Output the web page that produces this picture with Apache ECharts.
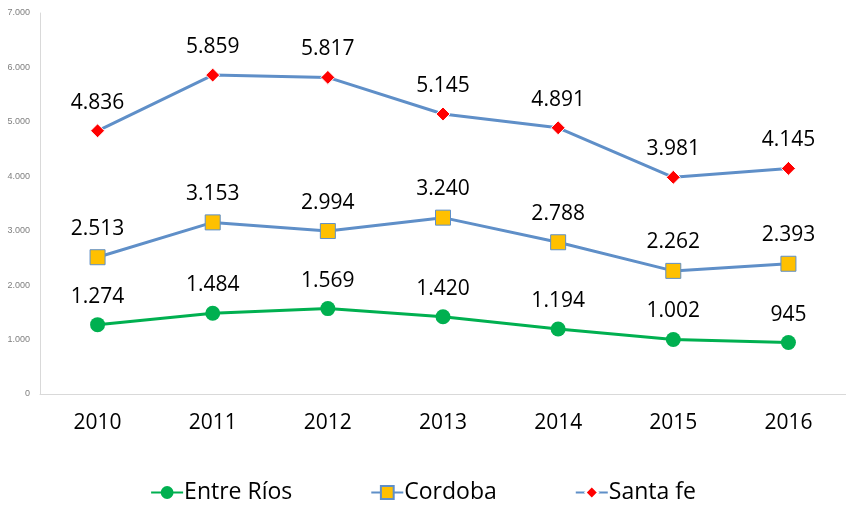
<!DOCTYPE html>
<html>
<head>
<meta charset="utf-8">
<script src="https://cdn.jsdelivr.net/npm/echarts@6/dist/echarts.min.js"></script>
<style>
  html, body { margin: 0; padding: 0; background: #fff; }
  #chart { width: 846px; height: 506px; }
</style>
</head>
<body>
<div id="chart"></div>
<script>
const years = ['2010', '2011', '2012', '2013', '2014', '2015', '2016'];
const entreRios = [1274, 1484, 1569, 1420, 1194, 1002, 945];
const cordoba = [2513, 3153, 2994, 3240, 2788, 2262, 2393];
const santaFe = [4836, 5859, 5817, 5145, 4891, 3981, 4145];

// formato con punto de miles
const fmt = v => String(v).replace(/\B(?=(\d{3})+(?!\d))/g, '.');

const chart = echarts.init(document.getElementById('chart'));

const labelStyle = {
  show: true,
  position: 'top',
  distance: 10,
  color: '#000',
  fontSize: 21,
  fontFamily: 'Open Sans, Calibri, sans-serif',
  formatter: p => fmt(p.value)
};

const option = {
  animation: false,
  grid: { left: 40, right: 0, top: 13, bottom: 112 },
  legend: {
    bottom: -3,
    left: 'center',
    itemGap: 78,
    itemWidth: 32,
    itemHeight: 16,
    textStyle: { fontSize: 23, color: '#000', padding: [0, 0, 0, -4], fontFamily: 'Open Sans, Calibri, sans-serif' },
    data: ['Entre Ríos', 'Cordoba', 'Santa fe']
  },
  xAxis: {
    type: 'category',
    data: years,
    axisLine: { lineStyle: { color: '#d9d9d9' } },
    axisTick: { show: false },
    axisLabel: { color: '#000', fontSize: 21, margin: 19, fontFamily: 'Open Sans, Calibri, sans-serif' }
  },
  yAxis: {
    type: 'value',
    min: 0,
    max: 7000,
    interval: 1000,
    splitLine: { show: false },
    axisLine: { show: true, lineStyle: { color: '#d9d9d9' } },
    axisLabel: { color: '#7f7f7f', fontSize: 9, margin: 10, formatter: v => fmt(v) }
  },
  series: [
    {
      name: 'Entre Ríos',
      type: 'line',
      data: entreRios,
      symbol: 'circle',
      symbolSize: 15,
      lineStyle: { color: '#00b050', width: 3 },
      itemStyle: { color: '#00b050' },
      label: labelStyle
    },
    {
      name: 'Cordoba',
      type: 'line',
      data: cordoba,
      symbol: 'rect',
      symbolSize: 15,
      lineStyle: { color: '#5f8fc8', width: 3 },
      itemStyle: { color: '#ffc000', borderColor: '#5f8fc8', borderWidth: 1 },
      label: labelStyle
    },
    {
      name: 'Santa fe',
      type: 'line',
      data: santaFe,
      symbol: 'diamond',
      symbolSize: 14,
      lineStyle: { color: '#5f8fc8', width: 3 },
      itemStyle: { color: '#ff0000', borderColor: '#ffffff', borderWidth: 1 },
      label: labelStyle
    }
  ]
};

chart.setOption(option);
</script>
</body>
</html>
